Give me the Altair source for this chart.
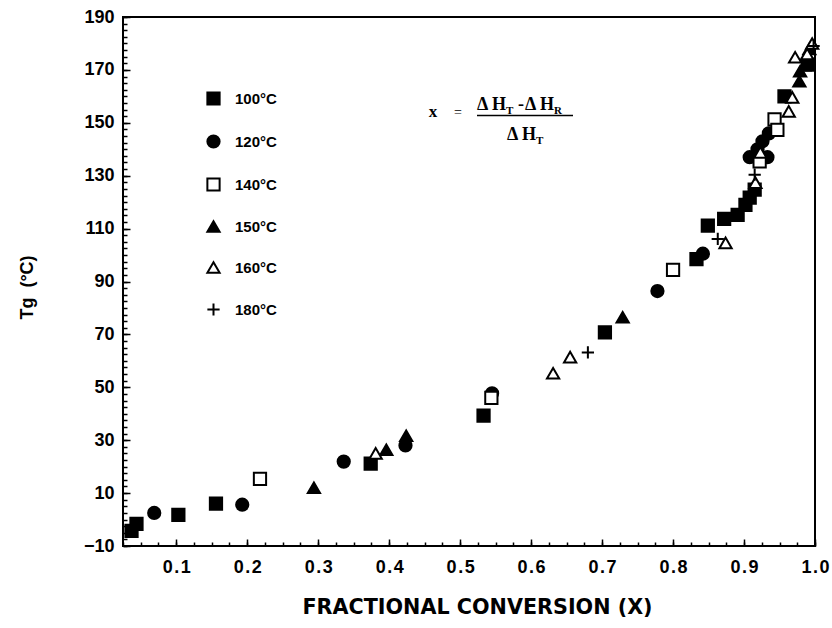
import altair as alt
import pandas as pd

# ---------------- data ----------------
series_names = ["100°C", "120°C", "140°C", "150°C", "160°C", "180°C"]

x100 = [0.037, 0.044, 0.103, 0.156, 0.374, 0.533, 0.704, 0.833, 0.849, 0.872, 0.891, 0.902, 0.908, 0.915, 0.957, 0.990]
y100 = [-4.3, -1.6, 1.8, 6.0, 21.1, 39.3, 70.8, 98.5, 111.1, 113.7, 115.2, 119.0, 121.7, 124.7, 160.0, 172.0]

x120 = [0.069, 0.193, 0.336, 0.423, 0.545, 0.778, 0.842, 0.908, 0.933, 0.919, 0.926, 0.935]
y120 = [2.5, 5.6, 21.9, 28.0, 47.7, 86.4, 100.5, 137.0, 137.0, 140.0, 143.0, 146.0]

x140 = [0.218, 0.544, 0.800, 0.922, 0.943, 0.947]
y140 = [15.4, 46.0, 94.4, 135.4, 151.3, 147.3]

x150 = [0.294, 0.396, 0.424, 0.729, 0.978, 0.979, 0.985, 0.992]
y150 = [12.0, 26.4, 31.7, 76.5, 165.7, 169.5, 171.8, 177.9]

x160 = [0.381, 0.631, 0.655, 0.874, 0.916, 0.923, 0.963, 0.968, 0.972, 0.989, 0.996]
y160 = [25.0, 55.3, 61.4, 104.6, 127.4, 138.8, 154.3, 159.6, 174.8, 176.0, 180.0]

x180 = [0.680, 0.863, 0.915, 0.998]
y180 = [63.2, 106.1, 130.4, 179.0]

y_label_values = [-10, 10, 30, 50, 70, 90, 110, 130, 150, 170, 190]
y_minor_values = [-10 + 2.5 * i for i in range(81)]
x_label_values = [0.1, 0.2, 0.3, 0.4, 0.5, 0.6, 0.7, 0.8, 0.9, 1.0]
x_minor_values = [round(0.025 * i, 3) for i in range(1, 41)]

# ---------------- build table ----------------
rows = []
for name, xs, ys in zip(series_names,
                        [x100, x120, x140, x150, x160, x180],
                        [y100, y120, y140, y150, y160, y180]):
    for a, b in zip(xs, ys):
        rows.append({"series": name, "x": a, "y": b})
df = pd.DataFrame(rows)

shapes = ["square", "circle", "square", "triangle-up", "triangle-up", "M-1,0H1M0,-1V1"]
fills = ["black", "black", "white", "black", "white", "black"]
strokes = ["black"] * 6

W, H = 692, 529
FONT = "Liberation Sans"
SERIF = "Liberation Serif"

x_scale = alt.Scale(domain=[0.025, 1.0], nice=False, zero=False)
y_scale = alt.Scale(domain=[-10, 190], nice=False, zero=False)

legend = alt.Legend(
    orient="none", legendX=83, legendY=74, title=None, padding=0,
    rowPadding=22, labelOffset=14, labelFont=FONT, labelFontSize=15,
    labelFontWeight="bold", labelColor="black", symbolSize=150,
    symbolStrokeWidth=2, direction="vertical",
)

main_x_axis = alt.Axis(
    orient="bottom", values=x_label_values,
    labelExpr="replace(format(datum.value, '.1f'), '.', '\u200a.\u200a')",
    labelFont=FONT, labelFontSize=18, labelFontWeight="bold", labelColor="black",
    labelPadding=12, labelFlush=False, labelOverlap=False,
    ticks=False, tickSize=0, domain=False, grid=False,
    title="FRACTIONAL CONVERSION (X)", titleFont="DejaVu Sans", titleFontSize=20.7,
    titleFontWeight="bold", titleColor="black", titleX=354, titleY=61,
    titleAlign="center", titleBaseline="middle",
)
main_y_axis = alt.Axis(
    orient="left", values=y_label_values,
    labelFont=FONT, labelFontSize=18, labelFontWeight="bold", labelColor="black",
    labelPadding=9, labelOverlap=False,
    ticks=False, tickSize=0, domain=False, grid=False,
    title="Tg\u00a0\u00a0(°C)", titleFont=FONT, titleFontSize=18,
    titleFontWeight="bold", titleColor="black", titleX=-96, titleY=270,
    titleAlign="center", titleBaseline="middle",
)

points = alt.Chart(df).mark_point(
    filled=True, size=150, strokeWidth=2, opacity=1
).encode(
    x=alt.X("x:Q", scale=x_scale, axis=main_x_axis),
    y=alt.Y("y:Q", scale=y_scale, axis=main_y_axis),
    shape=alt.Shape("series:N", scale=alt.Scale(domain=series_names, range=shapes), legend=legend),
    fill=alt.Fill("series:N", scale=alt.Scale(domain=series_names, range=fills), legend=legend),
    stroke=alt.Stroke("series:N", scale=alt.Scale(domain=series_names, range=strokes), legend=legend),
)


def tick_layer(xvals, yvals, length):
    xa = alt.Axis(orient="bottom", values=xvals, offset=-length, tickSize=length,
                  tickWidth=1.5, tickColor="black", labels=False, domain=False,
                  grid=False, title="")
    ya = alt.Axis(orient="left", values=yvals, offset=-length, tickSize=length,
                  tickWidth=1.5, tickColor="black", labels=False, domain=False,
                  grid=False, title="")
    return alt.Chart(df).mark_point(opacity=0).encode(
        x=alt.X("x:Q", scale=x_scale, axis=xa),
        y=alt.Y("y:Q", scale=y_scale, axis=ya),
    )


major_ticks = tick_layer(x_label_values, y_label_values, 7)
minor_ticks = tick_layer(x_minor_values, y_minor_values, 4)


def text_at(txt, px, py, size, font=SERIF, weight="bold", align="left"):
    return alt.Chart(pd.DataFrame({"t": [txt]})).mark_text(
        font=font, fontSize=size, fontWeight=weight, align=align,
        baseline="alphabetic", color="black"
    ).encode(text="t:N", x=alt.value(px), y=alt.value(py))


formula = [
    text_at("x", 310, 100, 17, align="center"),
    text_at("=", 335, 100, 14, weight="normal", align="center"),
    text_at("Δ\u2009H", 354, 93, 18),
    text_at("T", 383, 97, 11),
    text_at("-", 395, 93, 18),
    text_at("Δ\u2009H", 402, 93, 18),
    text_at("R", 431, 97, 11),
    text_at("Δ\u2009H", 384, 123, 18),
    text_at("T", 413, 127, 11),
]
bar = alt.Chart(pd.DataFrame({"t": ["bar"]})).mark_rule(
    color="black", strokeWidth=1.5
).encode(x=alt.value(354), x2=alt.value(450), y=alt.value(98.5))

chart = alt.layer(
    minor_ticks, major_ticks, points, bar, *formula
).resolve_axis(
    x="independent", y="independent"
).properties(
    width=W, height=H,
    autosize=alt.AutoSizeParams(type="none"),
    padding={"left": 123, "top": 17, "right": 17, "bottom": 82},
    background="white",
).configure_view(
    stroke="black", strokeWidth=2
)

chart.save("out.html", embed_options={"renderer": "svg", "actions": False})
